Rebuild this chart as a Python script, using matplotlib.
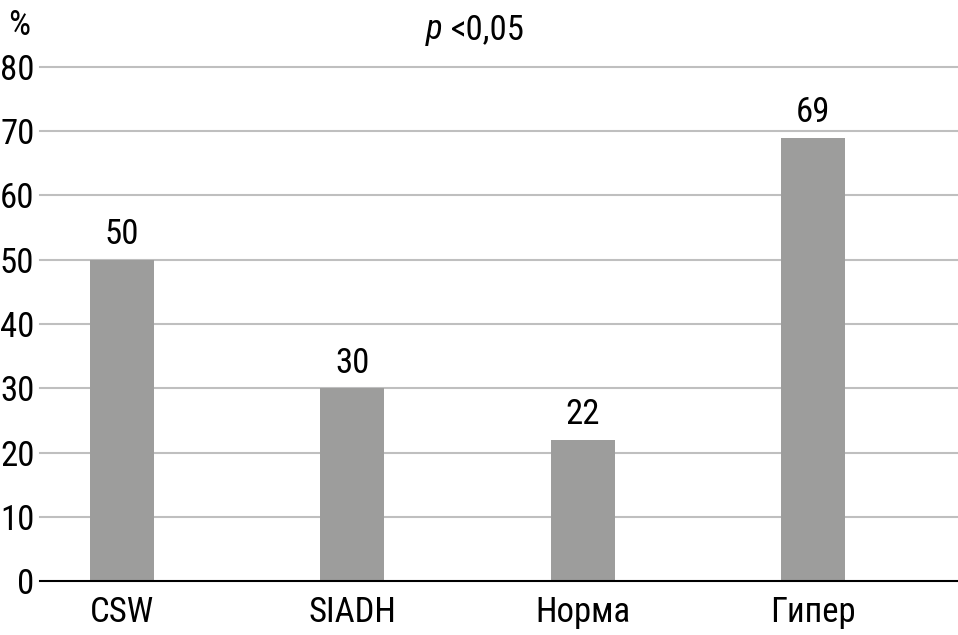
import matplotlib
matplotlib.use('Agg')
import matplotlib.pyplot as plt

categories = ["CSW", "SIADH", "Норма", "Гипер"]
values = [50, 30, 22, 69]
yticks = [0, 10, 20, 30, 40, 50, 60, 70, 80]

plt.rcParams['font.family'] = ['Roboto Condensed', 'PT Sans Narrow',
                               'Sofia Sans Condensed', 'DejaVu Sans']
FS = 25

fig = plt.figure(figsize=(9.58, 6.35), dpi=100)
ax = fig.add_axes([40 / 958, 54 / 635, 918 / 958, 514 / 635])

x = list(range(len(categories)))
ax.bar(x, values, width=0.278, color='#9d9d9c', zorder=3)
for xi, v in zip(x, values):
    ax.text(xi, v + 1.3, f"{v}", ha='center', va='bottom', fontsize=FS)

ax.set_xlim(-0.357, 3.63)
ax.set_ylim(0, 80)
ax.set_yticks(yticks)
ax.set_yticklabels([str(t) for t in yticks], fontsize=FS)
ax.set_xticks(x)
ax.set_xticklabels(categories, fontsize=FS)
ax.tick_params(axis='x', length=0, pad=11)
ax.tick_params(axis='y', length=0, pad=4)
for t in yticks[1:]:
    ax.axhline(t, color='#bfbfbf', lw=1.5, zorder=1, clip_on=False)
for s in ['top', 'right', 'left']:
    ax.spines[s].set_visible(False)
ax.spines['bottom'].set_color('black')
ax.spines['bottom'].set_linewidth(1.5)
ax.spines['bottom'].set_zorder(4)

fig.text(19 / 958, 1 - 35 / 635, "%", ha='center', va='baseline', fontsize=FS)
fig.text(426 / 958, 1 - 39 / 635, "p", style='italic', ha='left',
         va='baseline', fontsize=FS)
fig.text(451 / 958, 1 - 39 / 635, "<0,05", ha='left', va='baseline',
         fontsize=FS)

fig.savefig("out.png", dpi=100)
